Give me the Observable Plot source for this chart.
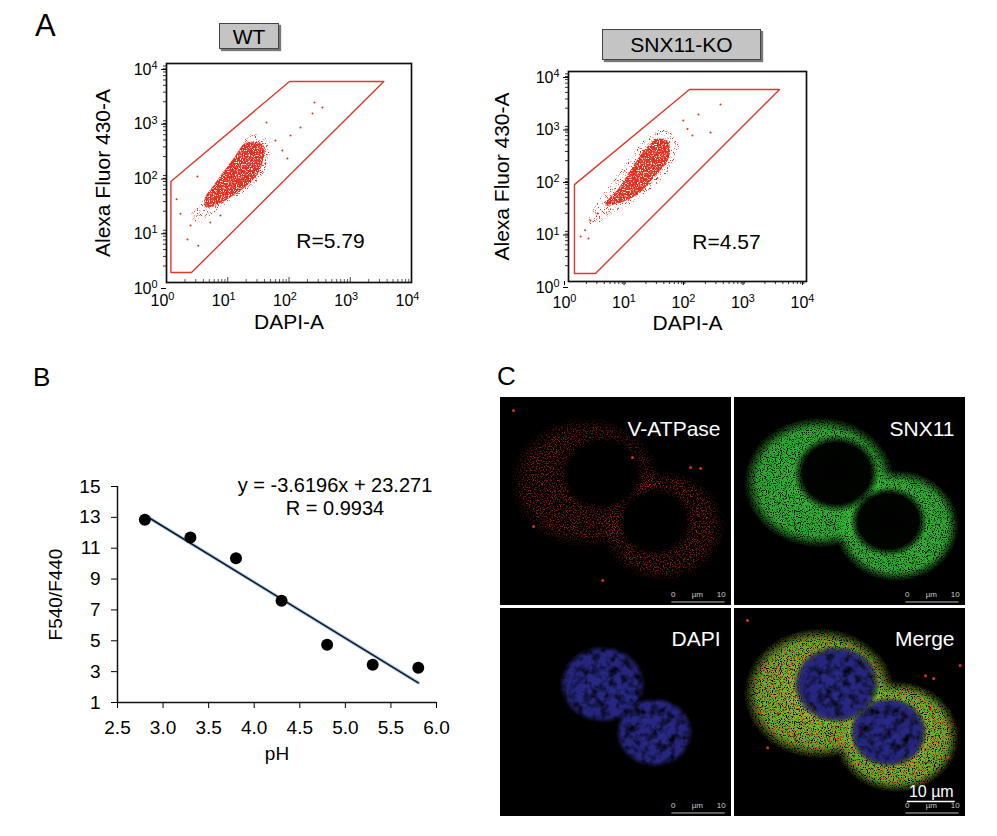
<!DOCTYPE html>
<html><head><meta charset="utf-8">
<script src="https://cdn.jsdelivr.net/npm/d3@7"></script>
<script src="https://cdn.jsdelivr.net/npm/@observablehq/plot@0.6"></script>
<style>
body{margin:0;background:#fff;font-family:"Liberation Sans",Arial,sans-serif;}
#fig{position:relative;width:997px;height:836px;overflow:hidden;background:#fff}
.slot{position:absolute}
.plab{position:absolute;line-height:1;color:#000}
.gbox{position:absolute;background:#c4c4c4;border:1px solid #444;box-shadow:2px 2px 1px #777;font-size:21px;line-height:1;display:flex;align-items:center;justify-content:center;box-sizing:border-box;color:#000}
</style></head><body>
<svg width="0" height="0" style="position:absolute;left:0;top:0">
<defs>
 <filter id="fDense" color-interpolation-filters="sRGB">
  <feTurbulence type="fractalNoise" baseFrequency="0.85" numOctaves="2" seed="4" result="n"/>
  <feColorMatrix in="n" type="matrix" values="0 0 0 0 0  0 0 0 0 0  0 0 0 0 0  6 0 0 0 -1.9" result="m"/>
  <feComposite in="SourceGraphic" in2="m" operator="in"/>
 </filter>
 <filter id="fMed" color-interpolation-filters="sRGB">
  <feTurbulence type="fractalNoise" baseFrequency="0.7" numOctaves="2" seed="7" result="n"/>
  <feColorMatrix in="n" type="matrix" values="0 0 0 0 0  0 0 0 0 0  0 0 0 0 0  5 0 0 0 -2.5" result="m"/>
  <feComposite in="SourceGraphic" in2="m" operator="in"/>
 </filter>
 <filter id="fHalo" color-interpolation-filters="sRGB">
  <feTurbulence type="fractalNoise" baseFrequency="0.9" numOctaves="2" seed="11" result="n"/>
  <feColorMatrix in="n" type="matrix" values="0 0 0 0 0  0 0 0 0 0  0 0 0 0 0  8 0 0 0 -4.7" result="m"/>
  <feComposite in="SourceGraphic" in2="m" operator="in"/>
 </filter>
 <filter id="fSparse" color-interpolation-filters="sRGB">
  <feTurbulence type="fractalNoise" baseFrequency="0.8" numOctaves="2" seed="13" result="n"/>
  <feColorMatrix in="n" type="matrix" values="0 0 0 0 0  0 0 0 0 0  0 0 0 0 0  8 0 0 0 -4.6" result="m"/>
  <feComposite in="SourceGraphic" in2="m" operator="in"/>
 </filter>
 <filter id="fSoft" color-interpolation-filters="sRGB">
  <feTurbulence type="fractalNoise" baseFrequency="0.12" numOctaves="3" seed="2" result="n"/>
  <feColorMatrix in="n" type="matrix" values="0 0 0 0 0  0 0 0 0 0  0 0 0 0 0  2.2 0 0 0 -0.3" result="m"/>
  <feComposite in="SourceGraphic" in2="m" operator="in"/>
 </filter>
 <radialGradient id="gRed">
  <stop offset="0" stop-color="#b82016" stop-opacity="0.75"/>
  <stop offset="0.8" stop-color="#c42618" stop-opacity="0.7"/>
  <stop offset="1" stop-color="#c42618" stop-opacity="0.05"/>
 </radialGradient>
 <radialGradient id="gGreen">
  <stop offset="0" stop-color="#34c434" stop-opacity="0.95"/>
  <stop offset="0.82" stop-color="#2eb82e" stop-opacity="0.9"/>
  <stop offset="1" stop-color="#2eb82e" stop-opacity="0.05"/>
 </radialGradient>
 <radialGradient id="gMergeG">
  <stop offset="0" stop-color="#a8d430" stop-opacity="0.95"/>
  <stop offset="0.82" stop-color="#6cc02a" stop-opacity="0.9"/>
  <stop offset="1" stop-color="#5ab028" stop-opacity="0.05"/>
 </radialGradient>
 <radialGradient id="gMergeR">
  <stop offset="0" stop-color="#e4301c" stop-opacity="1"/>
  <stop offset="0.85" stop-color="#e4301c" stop-opacity="1"/>
  <stop offset="1" stop-color="#e4301c" stop-opacity="0.1"/>
 </radialGradient>
 <radialGradient id="gNuc">
  <stop offset="0" stop-color="#000" stop-opacity="1"/>
  <stop offset="0.78" stop-color="#000" stop-opacity="0.97"/>
  <stop offset="1" stop-color="#000" stop-opacity="0"/>
 </radialGradient>
 <radialGradient id="gBlue">
  <stop offset="0" stop-color="#3030a0" stop-opacity="0.85"/>
  <stop offset="0.85" stop-color="#2c2c96" stop-opacity="0.85"/>
  <stop offset="1" stop-color="#2a2a90" stop-opacity="0"/>
 </radialGradient>
</defs></svg>

<div id="fig">
  <div class="slot" id="flowWT" style="left:96px;top:43px"></div>
  <div class="slot" id="flowKO" style="left:498px;top:51px"></div>
  <div class="slot" id="calib" style="left:47px;top:466px"></div>
  <div class="slot" id="cTL" style="left:500px;top:397px"></div>
  <div class="slot" id="cTR" style="left:734px;top:397px"></div>
  <div class="slot" id="cBL" style="left:500px;top:608px"></div>
  <div class="slot" id="cBR" style="left:734px;top:608px"></div>
  <div class="plab" style="left:35px;top:10px;font-size:31px">A</div>
  <div class="plab" style="left:33px;top:364px;font-size:26px">B</div>
  <div class="plab" style="left:497px;top:363px;font-size:26px">C</div>
  <div class="gbox" style="left:219px;top:23px;width:60px;height:26px">WT</div>
  <div class="gbox" style="left:602px;top:29px;width:159px;height:31px">SNX11-KO</div>
</div>

<script>
// ---------- Panel A: flow cytometry ----------
const decades = [1, 10, 100, 1000, 10000];
const gateWT = [{x:1.18,y:1.52},{x:1.18,y:70},{x:102,y:4700},{x:3530,y:4700},{x:2.56,y:1.52}];
const gateKO = [{x:1.26,y:1.42},{x:1.26,y:70},{x:108,y:4550},{x:3520,y:4550},{x:2.84,y:1.42}];
const coreWT = [{x:4.5,y:23.4},{x:12.4,y:38.8},{x:29.5,y:90},{x:38.4,y:184},{x:38.4,y:318},{x:20.2,y:361},{x:12.4,y:184},{x:5.85,y:59},{x:4.2,y:34}];
const haloWT = [{x:3.09,y:12.5},{x:8.5,y:25.5},{x:33,y:79},{x:46,y:169},{x:46,y:392},{x:22.6,y:505},{x:15.6,y:280},{x:7.3,y:79},{x:3.46,y:25.5},{x:2.5,y:16.7}];
const coreKO = [{x:4.35,y:28},{x:13.4,y:43},{x:29,y:104},{x:48,y:220},{x:48,y:444},{x:32.6,y:530},{x:19.7,y:341},{x:11.5,y:142},{x:6.9,y:59},{x:4.2,y:32}];
const haloKO = [{x:2.17,y:11.7},{x:6.2,y:20.6},{x:24.8,y:59},{x:53.8,y:162},{x:70.6,y:444},{x:42.7,y:820},{x:22.1,y:604},{x:11.5,y:251},{x:5.3,y:77},{x:2.44,y:20.6}];
const outWT = [{x:261,y:1940},{x:242,y:1220},{x:352,y:1570},{x:43,y:836},{x:106,y:484},{x:154,y:678},{x:60,y:392},{x:3.2,y:86},{x:2.2,y:6.1},{x:1.46,y:33},{x:1.69,y:18},{x:3.3,y:4.7},{x:2.47,y:11},{x:5.2,y:12.5},{x:7.6,y:16.7},{x:78,y:258},{x:94,y:184}];
const outKO = [{x:359,y:2350},{x:153,y:1520},{x:244,y:689},{x:121,y:604},{x:1.6,y:7.2},{x:2.17,y:6.6},{x:2.34,y:14.5},{x:3.07,y:19.7},{x:85,y:1160},{x:1.9,y:9.5},{x:100,y:800}];
const rWT = "R=5.79", rKO = "R=4.57";
const flowXLabel = "DAPI-A", flowYLabel = "Alexa Fluor 430-A";

// ---------- Panel B: calibration ----------
const pH = [2.8, 3.3, 3.8, 4.3, 4.8, 5.3, 5.8];
const ratio = [12.85, 11.7, 10.35, 7.6, 4.75, 3.45, 3.25];
const fitSlope = -3.6196, fitIntercept = 23.271;
const fitRange = [2.8, 5.8];
const eqText = "y = -3.6196x + 23.271", rText = "R = 0.9934";
const phTicks = [2.5, 3.0, 3.5, 4.0, 4.5, 5.0, 5.5, 6.0];
const ratioTicks = [1, 3, 5, 7, 9, 11, 13, 15];

// ---------- Panel C: confocal (µm) ----------
const cells = [{x:17.7,y:17.7,rx:15.6,ry:13.5},{x:33.75,y:26.7,rx:12.9,ry:11.5}];
const nuclei = [{x:21.25,y:15.8,rx:9.0,ry:8.1},{x:32.1,y:25.8,rx:8.1,ry:7.3}];
const redSpots = [{x:39.6,y:14.6},{x:41.7,y:14.8},{x:6.9,y:26.9},{x:2.7,y:2.7},{x:21.3,y:38.1},{x:27.5,y:12.5}];
const mergeSpots = [{x:41.5,y:14.6},{x:39.8,y:14.0},{x:47,y:11.9},{x:2.7,y:2.5},{x:6.9,y:29},{x:44.5,y:31}];
const channelLabels = {red:"V-ATPase", green:"SNX11", blue:"DAPI", merge:"Merge"};
const rulerLabels = ["0", "µm", "10"];
const scaleLen = 10;

const FONT = "Liberation Sans, Arial, sans-serif";
const NS = "http://www.w3.org/2000/svg";

function superscripts(svg) {
  svg.querySelectorAll("text").forEach(t => {
    if (!t.textContent) { t.remove(); return; }
    const m = /^10\^(\d)$/.exec(t.textContent);
    if (m) {
      t.textContent = "10";
      const ts = document.createElementNS(NS, "tspan");
      ts.setAttribute("dy", "-0.5em");
      ts.setAttribute("font-size", "0.68em");
      ts.textContent = m[1];
      t.appendChild(ts);
    }
  });
}
function applyFilters(svg, map) {
  for (const [fill, f] of Object.entries(map)) {
    svg.querySelectorAll(`[fill="${fill}"]`).forEach(el => el.setAttribute("filter", `url(#${f})`));
  }
}

const minorTicks = decades.slice(0, -1).flatMap(d => [2,3,4,5,6,7,8,9].map(k => k * d));
const CORE = "#e1301f", HALO = "#e2311f";
const sup = d => "10^" + Math.round(Math.log10(d));

function flowPlot(o) {
  const mL = 70, mR = 20, mT = 20, mB = 60;
  const fh = o.h - mT - mB;
  const xTickMarks = o.ticksOut
    ? [Plot.axisX({ticks: minorTicks, tickSize: 3, tickFormat: () => "", label: null, stroke: "#333"}),
       Plot.axisX({ticks: decades, tickSize: 4, tickPadding: 11, tickFormat: sup, fontSize: 16, dx: -4, label: null})]
    : [Plot.tickX(minorTicks, {x: d => d, insetTop: fh - 3, stroke: "#333", strokeWidth: 0.8}),
       Plot.tickX(decades, {x: d => d, insetTop: fh - 5, stroke: "#333", strokeWidth: 0.9}),
       Plot.axisX({ticks: decades, tickSize: 0, tickPadding: 12, tickFormat: sup, fontSize: 16, dx: -4, label: null})];
  const svg = Plot.plot({
    width: o.w, height: o.h, marginLeft: mL, marginRight: mR, marginTop: mT, marginBottom: mB,
    style: {fontFamily: FONT, background: "transparent", color: "#000", overflow: "visible"},
    x: {type: "log", domain: [1, 1e4]},
    y: {type: "log", domain: [1, 1e4]},
    marks: [
      Plot.line(o.halo, {x: "x", y: "y", curve: "catmull-rom-closed", fill: HALO, stroke: "none"}),
      Plot.line(o.core, {x: "x", y: "y", curve: "catmull-rom-closed", fill: CORE, stroke: "none"}),
      Plot.dot(o.out, {x: "x", y: "y", r: 1, fill: "#e0301e"}),
      Plot.line(o.gate, {x: "x", y: "y", curve: "linear-closed", stroke: "#e0392c", strokeWidth: 1.4}),
      ...xTickMarks,
      Plot.axisY({ticks: minorTicks, tickSize: 3, tickFormat: () => "", label: null, stroke: "#333"}),
      Plot.axisY({ticks: decades, tickSize: 5, tickPadding: 4, tickFormat: sup, fontSize: 16, dy: 6, label: null}),
      Plot.frame({stroke: "#111", strokeWidth: 1.7}),
      Plot.text([o.r], {x: () => o.rPos[0], y: () => o.rPos[1], text: d => d, fontSize: 21}),
      Plot.text([flowXLabel], {frameAnchor: "bottom", dy: o.xDy, text: d => d, fontSize: 21}),
      Plot.text([flowYLabel], {frameAnchor: "left", textAnchor: "middle", dx: o.yDx, rotate: -90, text: d => d, fontSize: 21})
    ]
  });
  superscripts(svg);
  applyFilters(svg, {[CORE]: "fDense", [HALO]: "fHalo"});
  return svg;
}

document.getElementById("flowWT").appendChild(flowPlot({w: 335, h: 299, halo: haloWT, core: coreWT, out: outWT, gate: gateWT, r: rWT, rPos: [476, 5.6], xDy: 46, yDx: -63, ticksOut: false}));
document.getElementById("flowKO").appendChild(flowPlot({w: 328, h: 290, halo: haloKO, core: coreKO, out: outKO, gate: gateKO, r: rKO, rPos: [452, 5.5], xDy: 48, yDx: -66, ticksOut: true}));

// ---------- Panel B ----------
const calibPts = pH.map((p, i) => ({pH: p, ratio: ratio[i]}));
const calib = Plot.plot({
  width: 409, height: 306, marginLeft: 70, marginRight: 20, marginTop: 20, marginBottom: 70,
  style: {fontFamily: FONT, background: "transparent", color: "#000", overflow: "visible"},
  x: {domain: [2.5, 6]}, y: {domain: [1, 15]},
  marks: [
    Plot.axisX({ticks: phTicks, tickFormat: d3.format(".1f"), tickSize: 6, tickPadding: 12, fontSize: 19, label: null}),
    Plot.axisY({ticks: ratioTicks, tickSize: 6, tickPadding: 11, fontSize: 19, label: null}),
    Plot.ruleY([1], {stroke: "#111", strokeWidth: 1.5}),
    Plot.ruleX([2.5], {stroke: "#111", strokeWidth: 1.5}),
    Plot.line(fitRange, {x: d => d, y: d => fitSlope * d + fitIntercept, stroke: "#a9c8e6", strokeWidth: 3.4}),
    Plot.line(fitRange, {x: d => d, y: d => fitSlope * d + fitIntercept, stroke: "#0b1726", strokeWidth: 1.5}),
    Plot.dot(calibPts, {x: "pH", y: "ratio", r: 6, fill: "#000"}),
    Plot.text([eqText], {frameAnchor: "top", dx: 58, dy: -9, text: d => d, fontSize: 20}),
    Plot.text([rText], {frameAnchor: "top", dx: 58, dy: 14, text: d => d, fontSize: 20}),
    Plot.text(["pH"], {frameAnchor: "bottom", dy: 57, text: d => d, fontSize: 19}),
    Plot.text(["F540/F440"], {frameAnchor: "left", textAnchor: "middle", dx: -62, rotate: -90, text: d => d, fontSize: 19})
  ]
});
document.getElementById("calib").appendChild(calib);

// ---------- Panel C ----------
const PX_PER_UM = 4.8, PW = 231, PH = 208;
function ellipseSymbol(aspect) {
  return {draw(ctx, size) {
    const r = Math.sqrt(size / Math.PI), n = 72;
    for (let i = 0; i < n; i++) {
      const t = 2 * Math.PI * i / n, px = r * Math.cos(t), py = r / aspect * Math.sin(t);
      if (i === 0) ctx.moveTo(px, py); else ctx.lineTo(px, py);
    }
    ctx.closePath();
  }};
}
const ellipses = (list, fill) => list.map(c => Plot.dot([c], {x: "x", y: "y", r: c.rx * PX_PER_UM, symbol: ellipseSymbol(c.rx / c.ry), fill}));

function microPanel(kind) {
  const W = PW / PX_PER_UM, H = PH / PX_PER_UM;
  const marks = [Plot.frame({fill: "#000"})];
  if (kind === "red") {
    marks.push(...ellipses(cells, "url(#gRed)"), ...ellipses(nuclei, "url(#gNuc)"));
    marks.push(Plot.dot(redSpots, {x: "x", y: "y", r: 1.5, fill: "#d8301c"}));
  } else if (kind === "green") {
    marks.push(...ellipses(cells, "url(#gGreen)"), ...ellipses(nuclei, "url(#gNuc)"));
  } else if (kind === "blue") {
    marks.push(...ellipses(nuclei, "url(#gBlue)"));
  } else {
    marks.push(...ellipses(cells, "url(#gMergeG)"), ...ellipses(cells, "url(#gMergeR)"), ...ellipses(nuclei, "url(#gNuc)"), ...ellipses(nuclei, "url(#gBlue)"));
    marks.push(Plot.dot(mergeSpots, {x: "x", y: "y", r: 1.5, fill: "#e0301c"}));
  }
  marks.push(Plot.text([channelLabels[kind]], {frameAnchor: "top-right", textAnchor: "end", dx: -11, dy: kind === "red" || kind === "green" ? 24 : 23, text: d => d, fill: "#fff", fontSize: 21}));
  // small ruler
  const x0 = 36;
  marks.push(Plot.text(rulerLabels, {x: (d, i) => x0 + i * scaleLen / 2, y: () => 41.1, text: d => d, fill: "#ccc", fontSize: 8}));
  marks.push(Plot.ruleY([42.6], {x1: x0 - 0.3, x2: x0 + scaleLen + 0.8, stroke: "#bbb", strokeWidth: 1}));
  if (kind === "merge") {
    marks.push(Plot.text(["10 µm"], {x: () => x0 + scaleLen / 2, y: () => 38.2, text: d => d, fill: "#fff", fontSize: 16}));
    marks.push(Plot.ruleY([40.2], {x1: x0, x2: x0 + scaleLen, stroke: "#fff", strokeWidth: 1.5}));
  }
  const svg = Plot.plot({
    width: PW, height: PH, margin: 0,
    style: {fontFamily: FONT, background: "#000", overflow: "hidden"},
    x: {domain: [0, W], axis: null}, y: {domain: [0, H], reverse: true, axis: null},
    marks
  });
  applyFilters(svg, {"url(#gRed)": "fMed", "url(#gGreen)": "fDense", "url(#gMergeG)": "fDense", "url(#gMergeR)": "fSparse", "url(#gBlue)": "fSoft"});
  return svg;
}
document.getElementById("cTL").appendChild(microPanel("red"));
document.getElementById("cTR").appendChild(microPanel("green"));
document.getElementById("cBL").appendChild(microPanel("blue"));
document.getElementById("cBR").appendChild(microPanel("merge"));
</script>
</body></html>
